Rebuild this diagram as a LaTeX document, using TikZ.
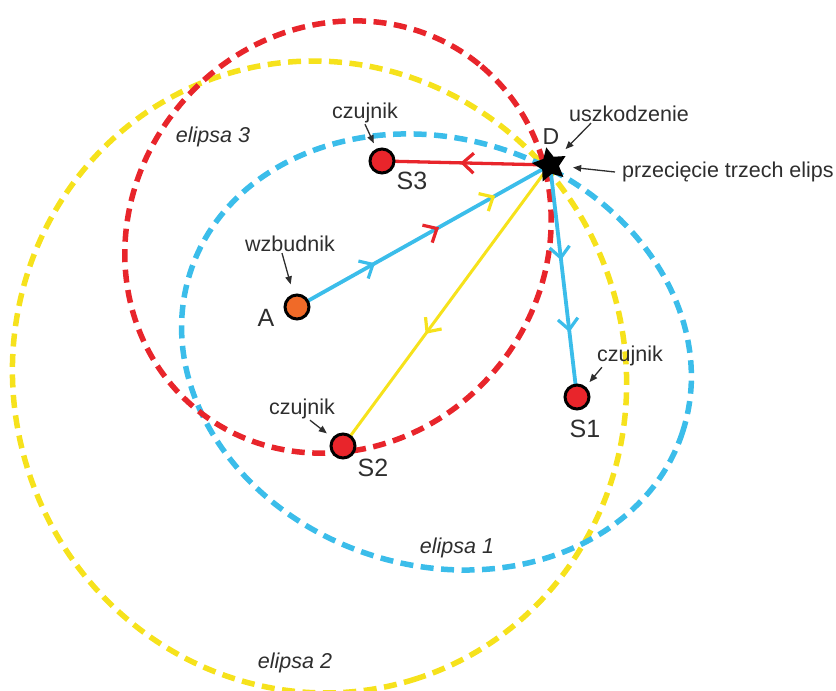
\documentclass[tikz,border=0pt]{standalone}
\usepackage{fontspec}
\setmainfont{Liberation Sans}
\usetikzlibrary{shapes.geometric,arrows.meta,decorations.markings,backgrounds}
\definecolor{ered}{HTML}{E8252B}
\definecolor{eyel}{HTML}{F6E21C}
\definecolor{eblue}{HTML}{3BBDEA}
\definecolor{eorange}{HTML}{F06A28}
\definecolor{txt}{HTML}{2E2E2E}
\begin{document}
\begin{tikzpicture}[x=1pt,y=-1pt,
  ell/.style={line width=5.5pt,dash pattern=on 13pt off 7.5pt},
  sensor/.style={circle,draw=black,line width=3pt,fill=ered,minimum size=24pt,inner sep=0pt},
  exciter/.style={sensor,fill=eorange},
  fault/.style={star,star points=5,star point ratio=2.0,fill=black,minimum size=36pt,inner sep=0pt,shape border rotate=12},
  small/.style={font=\fontsize{21.5}{26}\selectfont,text=txt,inner sep=1pt},
  elab/.style={font=\fontsize{21.5}{26}\selectfont\itshape,text=txt,inner sep=1pt},
  big/.style={font=\fontsize{25}{30}\selectfont,text=txt,inner sep=0pt},
  ann/.style={line width=1.3pt,draw=txt,-{Triangle[length=8pt,width=6.5pt]}},
  chev/.style 2 args={postaction={decorate,decoration={markings,mark=at position #1 with {\draw[draw=#2,line width=3.2pt,solid] (-11pt,10pt) -- (0pt,0pt) -- (-11pt,-10pt);}}}},
]
\useasboundingbox (0,0) rectangle (836,691);

% nodes
\node[exciter] (A) at (297,307) {};
\node[sensor] (S1) at (577,397) {};
\node[sensor] (S2) at (343,446) {};
\node[sensor] (S3) at (382,161) {};
\node[fault] (D) at (550,165) {};

\node[big] (lA) at (266,318) {A};
\node[big] (lS1) at (585,429) {S1};
\node[big] (lS2) at (373,468) {S2};
\node[big] (lS3) at (412,181) {S3};
\node[big,font=\fontsize{23}{27}\selectfont] (lD) at (551,137) {D};

\node[small] (czS3) at (365,113) {czujnik};
\node[small] (wz) at (290,244) {wzbudnik};
\node[small] (czS2) at (302,409) {czujnik};
\node[small] (czS1) at (630,356) {czujnik};
\node[small] (usz) at (629,114) {uszkodzenie};
\node[small,anchor=west] (prz) at (621,172) {przecięcie trzech elips};
\node[elab] (e3) at (213,137) {elipsa 3};
\node[elab] (e1) at (457,548) {elipsa 1};
\node[elab] (e2) at (295,663) {elipsa 2};

% annotation arrows
\draw[ann,shorten >=6pt] (czS3.south) -- (S3);
\draw[ann,shorten >=10pt] ([xshift=-8pt]wz.south) -- (A);
\draw[ann,shorten >=7pt] ([xshift=8pt]czS2.south) -- (S2);
\draw[ann,shorten >=6pt] ([xshift=6pt]czS1.south west) -- (S1);
\draw[ann,shorten >=10pt] ([xshift=23pt]usz.south west) -- (D);
\draw[ann,shorten >=14pt] ([xshift=-6pt]prz.west) -- (D);

\begin{scope}[on background layer]
  % ellipses
  \coordinate (cY) at (319.5,377);
  \draw[ell,eyel,rotate around={-72.2:(cY)}] (cY) ellipse [x radius=316.9, y radius=306];
  \coordinate (cB) at (436.5,352);
  \draw[ell,eblue,rotate around={-17.9:(cB)}] (cB) ellipse [x radius=258.8, y radius=213.3];
  \coordinate (cR) at (338,237);
  \draw[ell,ered,rotate around={50:(cR)}] (cR) ellipse [x radius=223, y radius=206];
  % paths
  \draw[eblue,line width=3.8pt,chev={0.30}{eblue},chev={0.553}{ered},chev={0.775}{eyel}] (A.center) -- (D.center);
  \draw[ered,line width=3.3pt,chev={0.52}{ered}] (D.center) -- (S3.center);
  \draw[eyel,line width=3pt,chev={0.594}{eyel}] (D.center) -- (S2.center);
  \draw[eblue,line width=3.8pt,chev={0.40}{eblue},chev={0.71}{eblue}] (D.center) -- (S1.center);
\end{scope}
\end{tikzpicture}
\end{document}
